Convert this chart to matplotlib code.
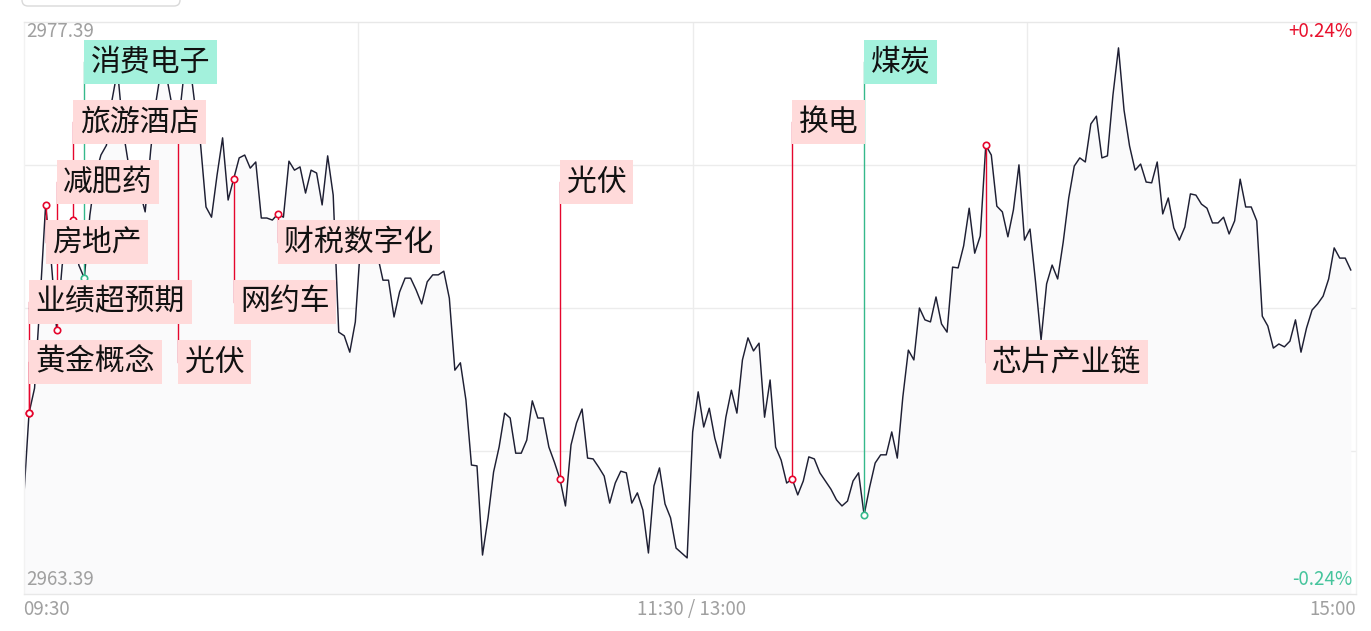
import matplotlib.pyplot as plt
from matplotlib.patches import FancyBboxPatch
from matplotlib.transforms import blended_transform_factory, IdentityTransform
import numpy as np

# ── Data: index intraday (one value per minute, 09:30 → 15:00) ────────────────
prices = [
    2965.65, 2967.82, 2968.43, 2970.59, 2972.91, 2971.56, 2969.85, 2971.44, 2972.05, 2972.54,
    2971.44, 2971.12, 2972.66, 2973.64, 2974.13, 2974.37, 2975.47, 2976.21, 2974.74, 2973.89,
    2973.40, 2973.27, 2972.74, 2974.25, 2975.47, 2976.33, 2975.96, 2975.23, 2974.86, 2976.09,
    2976.45, 2975.35, 2974.42, 2972.86, 2972.61, 2973.64, 2974.55, 2973.03, 2973.54, 2974.06,
    2974.13, 2973.81, 2973.96, 2972.59, 2972.59, 2972.54, 2972.69, 2972.61, 2973.98, 2973.76,
    2973.84, 2973.20, 2973.76, 2973.69, 2972.91, 2974.11, 2973.15, 2969.80, 2969.71, 2969.31,
    2970.05, 2972.05, 2972.42, 2972.05, 2971.69, 2971.07, 2971.07, 2970.17, 2970.78, 2971.12,
    2971.12, 2970.83, 2970.49, 2971.03, 2971.20, 2971.20, 2971.29, 2970.63, 2968.87, 2969.05,
    2968.14, 2966.55, 2966.53, 2964.35, 2965.26, 2966.38, 2966.99, 2967.82, 2967.70, 2966.84,
    2966.84, 2967.16, 2968.12, 2967.70, 2967.70, 2966.99, 2966.62, 2966.21, 2965.55, 2967.04,
    2967.58, 2967.92, 2966.72, 2966.70, 2966.50, 2966.28, 2965.62, 2966.11, 2966.40, 2966.36,
    2965.62, 2965.87, 2965.45, 2964.40, 2966.04, 2966.48, 2965.60, 2965.26, 2964.52, 2964.40,
    2964.28, 2967.36, 2968.34, 2967.48, 2967.94, 2967.21, 2966.72, 2967.72, 2968.38, 2967.82,
    2969.12, 2969.66, 2969.34, 2969.53, 2967.72, 2968.63, 2966.99, 2966.67, 2966.11, 2966.21,
    2965.82, 2966.16, 2966.75, 2966.70, 2966.36, 2966.16, 2965.96, 2965.70, 2965.55, 2965.67,
    2966.16, 2966.36, 2965.33, 2966.01, 2966.60, 2966.80, 2966.80, 2967.36, 2966.72, 2968.21,
    2969.36, 2969.12, 2970.39, 2970.10, 2970.05, 2970.66, 2970.00, 2969.80, 2971.39, 2971.37,
    2971.91, 2972.83, 2971.73, 2972.15, 2974.37, 2974.13, 2972.88, 2972.74, 2972.13, 2972.79,
    2973.89, 2972.05, 2972.32, 2971.03, 2969.61, 2970.98, 2971.44, 2971.10, 2972.00, 2973.08,
    2973.86, 2974.06, 2973.96, 2974.89, 2975.08, 2974.06, 2974.11, 2975.60, 2976.75, 2975.23,
    2974.35, 2973.76, 2973.91, 2973.47, 2973.45, 2973.96, 2972.69, 2973.08, 2972.35, 2972.05,
    2972.37, 2973.18, 2973.15, 2972.93, 2972.83, 2972.47, 2972.47, 2972.61, 2972.20, 2972.52,
    2973.54, 2972.86, 2972.86, 2972.52, 2970.19, 2969.95, 2969.41, 2969.51, 2969.44, 2969.58,
    2970.10, 2969.31, 2969.90, 2970.34, 2970.49, 2970.68, 2971.10, 2971.86, 2971.61, 2971.61,
    2971.32,
]
minutes = np.arange(len(prices))

y_top, y_bottom = 2977.39, 2963.39
pct_top, pct_bottom = '+0.24%', '-0.24%'
time_labels = ['09:30', '11:30 / 13:00', '15:00']

# sector events: minute index, label, direction (up = red, down = green)
event_minute = [1, 1, 4, 6, 9, 11, 28, 38, 46, 97, 139, 152, 174]
event_label = ['黄金概念', '业绩超预期', '房地产', '减肥药', '旅游酒店', '消费电子', '光伏',
               '网约车', '财税数字化', '光伏', '换电', '煤炭', '芯片产业链']
event_dir = ['up', 'up', 'up', 'up', 'up', 'down', 'up',
             'up', 'up', 'up', 'up', 'down', 'up']
# label row (0 = top row) for each event box
event_row = [5, 4, 3, 2, 1, 0, 5, 4, 3, 2, 1, 0, 5]

# ── Style ─────────────────────────────────────────────────────────────────────
CJK = ['Noto Sans CJK SC', 'DejaVu Sans']
LINE_C = '#1E1F33'
GRID_C = '#ECECEC'
TICK_C = '#A0A0A0'
RED = '#E5062D'
GREEN = '#35B98B'
RED_BOX = '#FFDADA'
GREEN_BOX = '#A3F1DC'
PCT_RED = '#E8112D'
PCT_GREEN = '#45C49C'

W, H = 1371, 631
fig = plt.figure(figsize=(W / 100, H / 100), dpi=100)
fig.patch.set_facecolor('white')
ax = fig.add_axes([23.5 / W, (H - 594.3) / H, 1332.8 / W, 572.6 / H])

ax.set_xlim(0, 241)
ax.set_ylim(y_bottom, y_top)

# grid
span = y_top - y_bottom
for k in (1, 2, 3):
    ax.axhline(y_bottom + span * k / 4, color=GRID_C, lw=1, zorder=0)
    ax.axvline(60.5 * k, color=GRID_C, lw=1, zorder=0)
for s in ax.spines.values():
    s.set_color('#E8E8E8')
    s.set_linewidth(1)
ax.spines['left'].set_color('#F2F2F2')
ax.spines['right'].set_color('#F2F2F2')
ax.set_xticks([])
ax.set_yticks([])

# series
ax.fill_between(minutes, prices, y_bottom, color='#FAFAFB', lw=0, zorder=1)
ax.plot(minutes, prices, color=LINE_C, lw=1.05, zorder=2)

# event annotations
blend = blended_transform_factory(ax.transData, ax.transAxes)
fs = 21.5
pad = 0.22
for m, lbl, d, r in zip(event_minute, event_label, event_dir, event_row):
    col = RED if d == 'up' else GREEN
    box = RED_BOX if d == 'up' else GREEN_BOX
    row_frac = (594.3 - (62 + 60 * r)) / 572.6
    row_price = y_bottom + row_frac * span
    ax.plot([m, m], [prices[m], row_price], color=col, lw=1.0, zorder=3)
    ax.plot([m], [prices[m]], marker='o', ms=4.6, mfc='white', mec=col, mew=1.2, zorder=4)
    ax.annotate(lbl, xy=(m, row_frac), xycoords=blend,
                xytext=(pad * fs, 0), textcoords='offset points',
                ha='left', va='center', fontsize=fs, family=CJK, color='#111111',
                bbox=dict(boxstyle=f'square,pad={pad}', fc=box, ec='none'), zorder=6)

# value / percent labels inside the plot
vfs = 13.5
ax.text(2.5 / 1332.8, 1 + 1 / 572.6, f'{y_top:.2f}', transform=ax.transAxes,
        ha='left', va='top', fontsize=vfs, color=TICK_C, family=CJK)
ax.text(2.5 / 1332.8, 4 / 572.6, f'{y_bottom:.2f}', transform=ax.transAxes,
        ha='left', va='bottom', fontsize=vfs, color=TICK_C, family=CJK)
ax.text(1 - 4 / 1332.8, 1 + 1 / 572.6, pct_top, transform=ax.transAxes,
        ha='right', va='top', fontsize=vfs, color=PCT_RED, family=CJK)
ax.text(1 - 4 / 1332.8, 4 / 572.6, pct_bottom, transform=ax.transAxes,
        ha='right', va='bottom', fontsize=vfs, color=PCT_GREEN, family=CJK)

# time axis labels
ty = -15 / 572.6
ax.text(0, ty, time_labels[0], transform=ax.transAxes, ha='left', va='center',
        fontsize=vfs, color=TICK_C, family=CJK)
ax.text(0.5 + 2 / 1332.8, ty, time_labels[1], transform=ax.transAxes, ha='center', va='center',
        fontsize=vfs, color=TICK_C, family=CJK)
ax.text(1, ty, time_labels[2], transform=ax.transAxes, ha='right', va='center',
        fontsize=vfs, color=TICK_C, family=CJK)

# partial UI tab at the top-left edge
fig.add_artist(FancyBboxPatch((22, H - 6), 158, 30, boxstyle='round,pad=0,rounding_size=6',
                              transform=IdentityTransform(), fc='white', ec='#D9D9D9', lw=1))

fig.savefig('out.png', dpi=100, facecolor='white')
